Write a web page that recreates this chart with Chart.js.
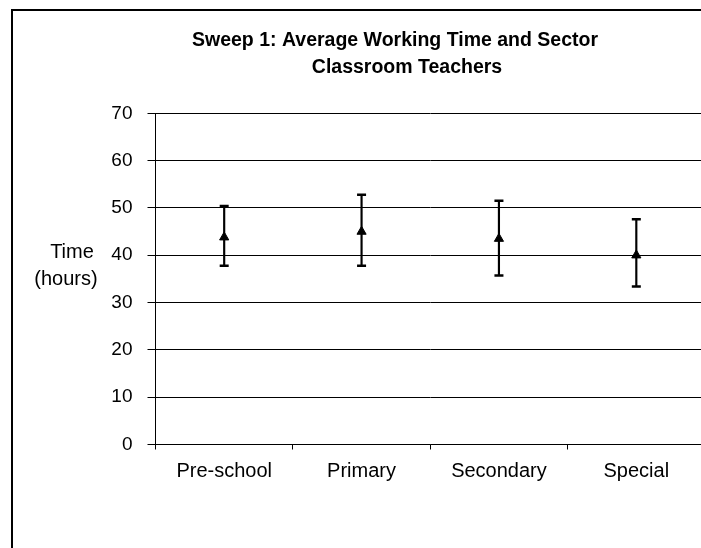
<!DOCTYPE html>
<html>
<head>
<meta charset="utf-8">
<script src="https://cdn.jsdelivr.net/npm/chart.js"></script>
<style>
  html, body { margin: 0; padding: 0; background: #fff; overflow: hidden; }
  #frame { position: absolute; left: 11px; top: 9px; width: 800px; height: 700px; border: 2px solid #000; }
  #wrap { position: absolute; left: 0; top: 0; width: 712px; height: 548px; }
</style>
</head>
<body>
<div id="frame"></div>
<div id="wrap"><canvas id="chart" width="712" height="548"></canvas></div>
<script>
const sectors = ['Pre-school', 'Primary', 'Secondary', 'Special'];
const meanHours = [43.8, 45.0, 43.5, 40.0];
const lowHours = [37.8, 37.8, 35.7, 33.4];
const highHours = [50.4, 52.8, 51.5, 47.6];
const yTicks = [0, 10, 20, 30, 40, 50, 60, 70];
const titleLines = ['Sweep 1: Average Working Time and Sector', 'Classroom Teachers'];
const yTitleLines = ['Time', '(hours)'];

const FONT = '"Liberation Sans", Arial, sans-serif';

// title and the horizontal y-axis caption
const textPlugin = {
  id: 'texts',
  afterDraw(chart) {
    const ctx = chart.ctx;
    ctx.save();
    ctx.fillStyle = '#000';
    ctx.textAlign = 'center';
    ctx.textBaseline = 'alphabetic';
    ctx.font = 'bold 19.5px ' + FONT;
    ctx.fillText(titleLines[0], 395, 46);
    ctx.fillText(titleLines[1], 407, 72.5);
    ctx.font = '20px ' + FONT;
    ctx.fillText(yTitleLines[0], 72, 258);
    ctx.fillText(yTitleLines[1], 66, 285);
    ctx.restore();
  }
};

new Chart(document.getElementById('chart'), {
  type: 'bar',
  data: {
    labels: sectors,
    datasets: [
      {
        type: 'line', label: 'Mean', data: meanHours, showLine: false,
        pointStyle: 'triangle', pointRadius: 5.3, pointHoverRadius: 5.3,
        pointBackgroundColor: '#000', pointBorderColor: '#000', pointBorderWidth: 1,
        order: 1
      },
      {
        type: 'line', label: 'High', data: highHours, showLine: false,
        pointStyle: 'line', pointRadius: 4.5, pointHoverRadius: 4.5,
        pointBorderColor: '#000', pointBorderWidth: 2.5,
        order: 2
      },
      {
        type: 'line', label: 'Low', data: lowHours, showLine: false,
        pointStyle: 'line', pointRadius: 4.5, pointHoverRadius: 4.5,
        pointBorderColor: '#000', pointBorderWidth: 2.5,
        order: 2
      },
      {
        type: 'bar', label: 'Range',
        data: sectors.map((s, i) => [lowHours[i], highHours[i]]),
        backgroundColor: '#000', borderWidth: 0, barThickness: 1.5,
        order: 3
      }
    ]
  },
  options: {
    responsive: false,
    animation: false,
    layout: { padding: { top: 113.3, right: 4, left: 0, bottom: 0 } },
    plugins: {
      legend: { display: false },
      tooltip: { enabled: false },
      title: { display: false }
    },
    scales: {
      x: {
        type: 'category',
        offset: true,
        grid: { drawOnChartArea: false, offset: true, tickLength: 5, color: '#000', lineWidth: 1 },
        border: { color: '#000', width: 1 },
        ticks: { color: '#000', font: { size: 20, family: FONT }, padding: 10, maxRotation: 0, autoSkip: false },
        afterFit(scale) { scale.height = 103.5; }
      },
      y: {
        min: 0, max: 70,
        afterBuildTicks(scale) { scale.ticks = yTicks.map(v => ({ value: v })); },
        grid: { color: '#000', lineWidth: 1, tickLength: 8 },
        border: { color: '#000', width: 1 },
        ticks: { color: '#000', font: { size: 19, family: FONT }, padding: 15 },
        afterFit(scale) { scale.width = 155.5; }
      }
    }
  },
  plugins: [textPlugin]
});
</script>
</body>
</html>
